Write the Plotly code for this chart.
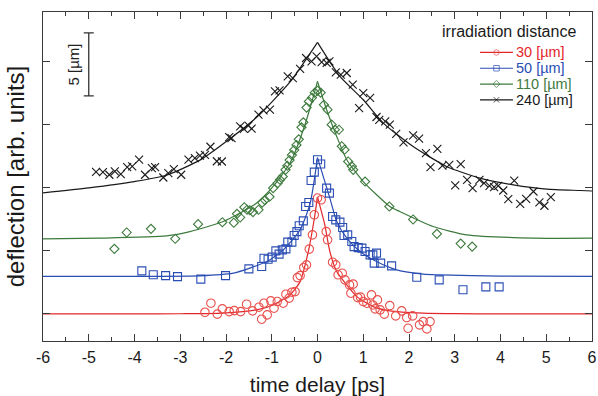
import plotly.graph_objects as go

# ---------------- data (time delay in ps, deflection in µm, arbitrary offset) ----------------
RED_X = [-2.46,-2.33,-2.19,-2.08,-1.93,-1.82,-1.68,-1.55,-1.42,-1.28,-1.22,-1.17,-1.10,-1.02,-0.95,
         -0.88,-0.75,-0.69,-0.62,-0.56,-0.49,-0.44,-0.38,-0.30,-0.24,-0.18,-0.11,-0.07,0.00,0.08,
         0.19,0.22,0.33,0.40,0.45,0.54,0.60,0.70,0.78,0.73,0.88,0.94,1.00,1.08,1.18,
         1.21,1.26,1.31,1.37,1.46,1.58,1.71,1.84,1.95,1.98,2.08,2.23,2.31,2.39,2.46]
RED_Y = [0.13,0.85,-0.02,0.40,0.18,0.26,0.18,0.77,0.24,0.53,-0.42,0.85,-0.08,1.03,0.45,
         0.98,0.85,1.56,1.25,1.72,1.77,2.88,3.04,3.68,3.89,5.14,6.27,7.86,9.19,9.05,
         6.53,5.88,4.10,3.89,3.10,3.23,2.70,2.30,2.36,1.64,1.29,1.33,0.98,0.85,1.51,
         0.71,0.40,1.11,0.32,-0.02,0.66,-0.16,0.24,-0.29,-1.14,-0.16,-0.87,-0.61,-1.19,-0.61]
RED_FIT_X = [-6,-4,-3,-2.07,-1.33,-0.97,-0.60,-0.38,-0.20,-0.08,0,0.16,0.27,0.42,0.64,0.86,1.22,1.58,2.31,3,4,6]
RED_FIT_Y = [0,0,0.01,0.06,0.32,0.71,1.51,2.56,4.95,7.33,9.29,7.07,4.95,3.36,2.30,1.37,0.58,0.24,0.06,0.02,0,0]

BLUE_X = [-3.84,-3.59,-3.32,-3.06,-2.55,-2.01,-1.50,-1.22,-1.17,-1.08,-0.99,-0.91,-0.84,-0.77,-0.69,
          -0.65,-0.56,-0.51,-0.45,-0.40,-0.31,-0.26,-0.19,-0.14,-0.07,0.00,0.07,0.20,0.26,0.33,
          0.40,0.49,0.55,0.58,0.66,0.75,0.80,0.89,0.97,1.04,1.15,1.21,1.29,1.24,1.38,
          1.62,2.17,2.66,3.18,3.68,3.97]
BLUE_Y = [3.41,3.10,3.04,2.96,2.76,3.04,3.57,3.76,4.42,4.34,4.50,5.00,4.74,5.08,5.16,
          5.69,5.69,6.22,6.53,6.99,7.38,8.52,8.84,10.58,11.25,12.23,11.89,9.98,9.58,7.73,
          7.46,7.28,6.85,6.22,6.27,5.74,5.34,5.26,5.22,4.95,4.68,4.68,4.82,4.03,4.03,
          3.81,2.91,2.70,1.91,2.14,2.14]
BLUE_FIT_X = [-6,-4.75,-2.57,-1.84,-1.48,-1.11,-0.75,-0.38,-0.16,0,0.27,0.42,0.64,0.93,1.29,1.73,2.31,2.68,4,6]
BLUE_FIT_Y = [2.98,2.98,3.02,3.23,3.63,4.15,5.08,6.67,8.79,12.4,9.19,7.33,6.01,4.95,4.15,3.49,3.15,3.10,3.0,2.98]

GREEN_X = [-4.44,-4.17,-3.64,-3.11,-2.61,-2.08,-1.83,-1.76,-1.69,-1.60,-1.54,-1.48,-1.41,-1.29,-1.21,
           -1.15,-1.05,-0.97,-0.87,-0.82,-0.76,-0.70,-0.66,-0.61,-0.56,-0.51,-0.46,-0.41,-0.35,-0.31,
           -0.24,-0.19,-0.12,-0.06,0.00,0.07,0.14,0.22,0.31,0.38,0.47,0.53,0.59,0.67,0.75,
           0.78,1.04,1.57,2.09,2.61,3.13,3.38]
GREEN_Y = [5.16,6.46,6.75,5.96,7.12,7.27,7.23,7.94,7.65,8.46,8.26,8.22,8.08,8.26,8.83,
           9.03,9.29,9.98,10.38,10.64,10.90,11.43,11.75,12.20,12.60,13.00,13.40,13.85,14.80,15.20,
           16.37,16.85,17.15,17.55,17.70,17.55,16.59,16.20,15.01,14.61,14.61,13.30,13.02,12.09,11.71,
           11.43,10.50,8.52,7.49,6.35,5.58,5.34]
GREEN_FIT_X = [-6,-4.75,-3.30,-2.79,-2.06,-1.33,-0.97,-0.60,-0.31,-0.09,0,0.20,0.42,0.64,1.00,1.58,1.80,2.53,3.26,4.72,6]
GREEN_FIT_Y = [5.95,6.01,6.19,6.53,7.33,8.79,10.11,11.97,14.61,17.25,18.44,16.20,14.08,12.23,10.50,8.52,8.12,6.93,6.27,6.01,6.01]

BLACK_X = [-4.84,-4.69,-4.55,-4.43,-4.30,-4.16,-4.05,-3.90,-3.77,-3.62,-3.55,-3.37,-3.26,-3.14,-2.98,
           -2.82,-2.68,-2.57,-2.46,-2.34,-2.20,-2.09,-1.93,-1.88,-1.69,-1.61,-1.51,-1.44,-1.29,-1.18,
           -1.04,-0.93,-0.83,-0.65,-0.54,-0.38,-0.25,-0.13,-0.02,0.09,0.20,0.26,0.40,0.51,0.64,
           0.77,1.00,1.15,0.91,1.29,1.35,1.48,1.58,1.72,1.88,2.09,2.22,2.37,2.62,2.47,
           2.73,2.88,3.13,3.01,3.27,3.39,3.54,3.64,3.76,3.86,3.95,4.06,4.17,4.30,4.43,
           4.56,4.72,4.85,4.96,5.10]
BLACK_Y = [11.27,11.25,11.04,11.30,11.09,11.65,11.70,12.23,11.04,11.57,11.65,10.82,11.17,11.49,11.04,
           12.23,12.36,12.55,12.62,13.26,12.11,12.09,14.03,13.95,14.87,14.67,14.93,14.69,15.80,16.14,
           16.20,17.65,17.73,18.84,18.71,19.43,20.30,20.03,20.43,19.98,19.91,20.03,19.16,18.98,19.11,
           18.18,17.52,17.13,16.33,15.62,15.40,15.27,15.01,14.29,13.60,14.16,13.90,12.76,13.10,11.65,
           11.77,11.83,11.89,10.19,10.64,9.98,10.64,10.38,10.16,10.06,10.16,9.79,9.11,10.58,8.73,
           9.13,9.71,8.84,8.58,9.27]
BLACK_FIT_X = [-6,-5,-4,-3.30,-2.57,-2.06,-1.33,-0.60,0,0.49,1.00,1.45,2.09,2.82,3.55,4.28,5.01,5.74,6]
BLACK_FIT_Y = [9.6,10.0,10.5,11.0,12.2,13.5,15.6,18.4,21.54,18.84,16.99,15.1,13.28,11.70,10.77,10.24,9.90,9.79,9.75]

SERIES_NAMES = ["30 [µm]", "50 [µm]", "110 [µm]", "240 [µm]"]
LEGEND_TITLE = "irradiation distance"
X_TICKS = [-6, -5, -4, -3, -2, -1, 0, 1, 2, 3, 4, 5, 6]
Y_TICKS = [0, 5, 10, 15, 20]
SCALE_BAR_UM = 5
SCALE_BAR_X = -5
SCALE_BAR_Y0 = 17.3

# ---------------- styling ----------------
FONT = "Arial, 'Liberation Sans', sans-serif"
AXIS_COLOR = "#3a3a3a"
series = [
    dict(x=RED_X, y=RED_Y, fx=RED_FIT_X, fy=RED_FIT_Y, line="#e3262a", mk="#e8504c",
         symbol="circle-open", size=8.5),
    dict(x=BLUE_X, y=BLUE_Y, fx=BLUE_FIT_X, fy=BLUE_FIT_Y, line="#2a4db3", mk="#2a4db3",
         symbol="square-open", size=8),
    dict(x=GREEN_X, y=GREEN_Y, fx=GREEN_FIT_X, fy=GREEN_FIT_Y, line="#3d7a3d", mk="#3d7a3d",
         symbol="diamond-open", size=7),
    dict(x=BLACK_X, y=BLACK_Y, fx=BLACK_FIT_X, fy=BLACK_FIT_Y, line="#1a1a1a", mk="#1a1a1a",
         symbol="x-thin-open", size=8),
]

fig = go.Figure()

for s in series:
    # fit curve: left and right branches drawn separately to keep the sharp cusp at t = 0
    left = [(a, b) for a, b in zip(s["fx"], s["fy"]) if a <= 0]
    right = [(a, b) for a, b in zip(s["fx"], s["fy"]) if a >= 0]
    for branch in (left, right):
        fig.add_trace(go.Scatter(
            x=[p[0] for p in branch], y=[p[1] for p in branch], mode="lines",
            line=dict(color=s["line"], width=1.2, shape="spline", smoothing=0.6),
            showlegend=False, hoverinfo="skip"))
    fig.add_trace(go.Scatter(
        x=s["x"], y=s["y"], mode="markers",
        marker=dict(symbol=s["symbol"], size=s["size"], color=s["mk"],
                    line=dict(width=1.1, color=s["mk"])),
        showlegend=False))

# scale bar (5 µm)
fig.add_trace(go.Scatter(
    x=[SCALE_BAR_X], y=[SCALE_BAR_Y0 + SCALE_BAR_UM / 2], mode="markers",
    marker=dict(size=1, color="rgba(0,0,0,0)"),
    error_y=dict(type="constant", value=SCALE_BAR_UM / 2, width=5, thickness=1.3, color="#333"),
    showlegend=False, hoverinfo="skip"))
fig.add_annotation(x=SCALE_BAR_X - 0.34, y=SCALE_BAR_Y0 + SCALE_BAR_UM / 2,
                   text=f"{SCALE_BAR_UM} [µm]", textangle=-90, showarrow=False,
                   font=dict(family=FONT, size=15, color="#222"))

# manual legend on an overlay axis (plot-area fractions)
LEG_ROWS = [0.877, 0.829, 0.781, 0.733]
for s, name, yy in zip(series, SERIES_NAMES, LEG_ROWS):
    fig.add_trace(go.Scatter(
        x=[0.796, 0.826, 0.856], y=[yy, yy, yy], xaxis="x2", yaxis="y2",
        mode="lines+markers",
        line=dict(color=s["line"], width=1.2),
        marker=dict(symbol=s["symbol"], size=[0, 5.5, 0], color=s["mk"],
                    line=dict(width=1, color=s["mk"])),
        showlegend=False, hoverinfo="skip"))
    fig.add_annotation(xref="paper", yref="paper", x=0.86, y=yy, xanchor="left", yanchor="middle",
                       text=name, showarrow=False, borderpad=0,
                       font=dict(family=FONT, size=14.5, color=s["line"]))
fig.add_annotation(xref="paper", yref="paper", x=0.973, y=0.941, xanchor="right", yanchor="middle",
                   text=LEGEND_TITLE, showarrow=False, borderpad=0,
                   font=dict(family=FONT, size=16, color="#1a1a1a"))

axis_common = dict(showgrid=False, zeroline=False, showline=True, linecolor=AXIS_COLOR,
                   linewidth=1.3, mirror="ticks", ticks="inside", tickcolor=AXIS_COLOR,
                   tickwidth=1.2, ticklen=7, automargin=False)

fig.update_layout(
    width=598, height=396,
    margin=dict(l=43, r=6, t=12, b=55),
    paper_bgcolor="white", plot_bgcolor="white",
    font=dict(family=FONT, color="#1a1a1a"),
    xaxis=dict(range=[-6, 6], tickvals=X_TICKS, ticktext=[str(v) for v in X_TICKS],
               tickfont=dict(size=16), ticklabelstandoff=2,
               minor=dict(dtick=0.5, ticks="inside", ticklen=4, tickcolor=AXIS_COLOR, tickwidth=1),
               title=dict(text="time delay [ps]", font=dict(size=21), standoff=11),
               **axis_common),
    yaxis=dict(range=[-2.15, 23.95], tickvals=Y_TICKS, showticklabels=False,
               title=dict(text="deflection [arb. units]", font=dict(size=24), standoff=10),
               **axis_common),
    xaxis2=dict(overlaying="x", range=[0, 1], visible=False, fixedrange=True),
    yaxis2=dict(overlaying="y", range=[0, 1], visible=False, fixedrange=True),
)

fig.write_html("out.html", config={"displayModeBar": False},
               post_script="document.body.style.margin='0px';document.body.style.overflow='hidden';")
